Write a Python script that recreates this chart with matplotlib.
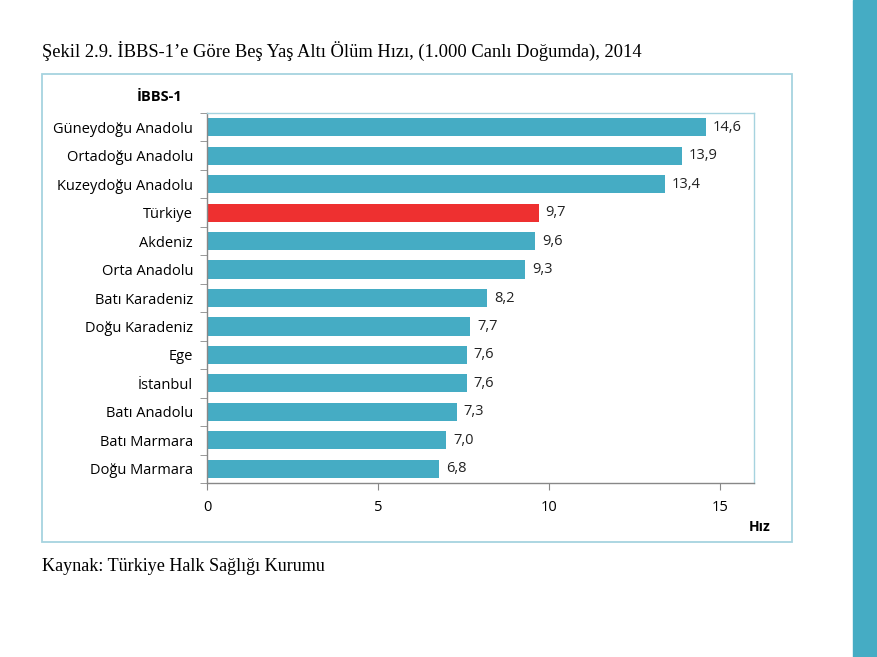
import matplotlib.pyplot as plt
import numpy as np
from matplotlib.patches import Rectangle

regions = ['Güneydoğu Anadolu', 'Ortadoğu Anadolu', 'Kuzeydoğu Anadolu', 'Türkiye',
           'Akdeniz', 'Orta Anadolu', 'Batı Karadeniz', 'Doğu Karadeniz', 'Ege',
           'İstanbul', 'Batı Anadolu', 'Batı Marmara', 'Doğu Marmara']
rates = [14.6, 13.9, 13.4, 9.7, 9.6, 9.3, 8.2, 7.7, 7.6, 7.6, 7.3, 7.0, 6.8]
x_ticks = [0, 5, 10, 15]

blue = '#45ACC4'
red = '#EE3030'
colors = [red if r == 'Türkiye' else blue for r in regions]

W, H = 877, 657
fig = plt.figure(figsize=(W / 100, H / 100), dpi=100)
fig.patch.set_facecolor('white')

def fx(px):
    return px / W

def fy(py):
    return 1 - py / H

# right stripe
fig.add_artist(Rectangle((fx(853), 0), fx(W - 853), 1, transform=fig.transFigure,
                         color=blue, zorder=0))
# outer frame
fig.add_artist(Rectangle((fx(42), fy(542)), fx(792 - 42), fy(74) - fy(542),
                         transform=fig.transFigure, fill=False, edgecolor='#A6D3DF',
                         linewidth=1.3))

fig.text(fx(42), fy(57), 'Şekil 2.9. İBBS-1’e Göre Beş Yaş Altı Ölüm Hızı, (1.000 Canlı Doğumda), 2014',
         family='Liberation Serif', fontsize=13.3, va='baseline', ha='left')
fig.text(fx(42), fy(571), 'Kaynak: Türkiye Halk Sağlığı Kurumu',
         family='Liberation Serif', fontsize=13.1, va='baseline', ha='left')

ax = fig.add_axes([fx(207), fy(483), fx(754 - 207), fy(113) - fy(483)])
y = np.arange(len(regions))
ax.barh(y, rates, height=0.64, color=colors, zorder=2)
for yi, v in zip(y, rates):
    ax.text(v + 0.2, yi, f'{v:.1f}'.replace('.', ','), va='center', ha='left',
            family='Open Sans', fontsize=10.5, color='#222222')

ax.set_ylim(len(regions) - 0.5, -0.5)
ax.set_xlim(0, 16)
ax.set_xticks(x_ticks)
ax.set_xticklabels([str(t) for t in x_ticks], family='Open Sans', fontsize=10.5)
ax.set_yticks(y)
ax.set_yticklabels(regions, family='Open Sans', fontsize=10.5)
ax.tick_params(axis='y', length=0, pad=10)
ax.set_yticks(np.arange(-0.5, len(regions), 1), minor=True)
ax.tick_params(axis='y', which='minor', length=5, color='#888888')
ax.tick_params(axis='x', length=5, color='#888888', pad=7)

for side in ['top', 'right']:
    ax.spines[side].set_color('#A6D3DF')
    ax.spines[side].set_linewidth(1)
for side in ['left', 'bottom']:
    ax.spines[side].set_color('#888888')
    ax.spines[side].set_linewidth(1)

fig.text(fx(160), fy(97), 'İBBS-1', family='Open Sans', fontweight='bold',
         fontsize=10.5, ha='center', va='center')
fig.text(fx(760), fy(527), 'Hız', family='Open Sans', fontweight='bold',
         fontsize=10, ha='center', va='center')

fig.savefig('out.png', dpi=100)
